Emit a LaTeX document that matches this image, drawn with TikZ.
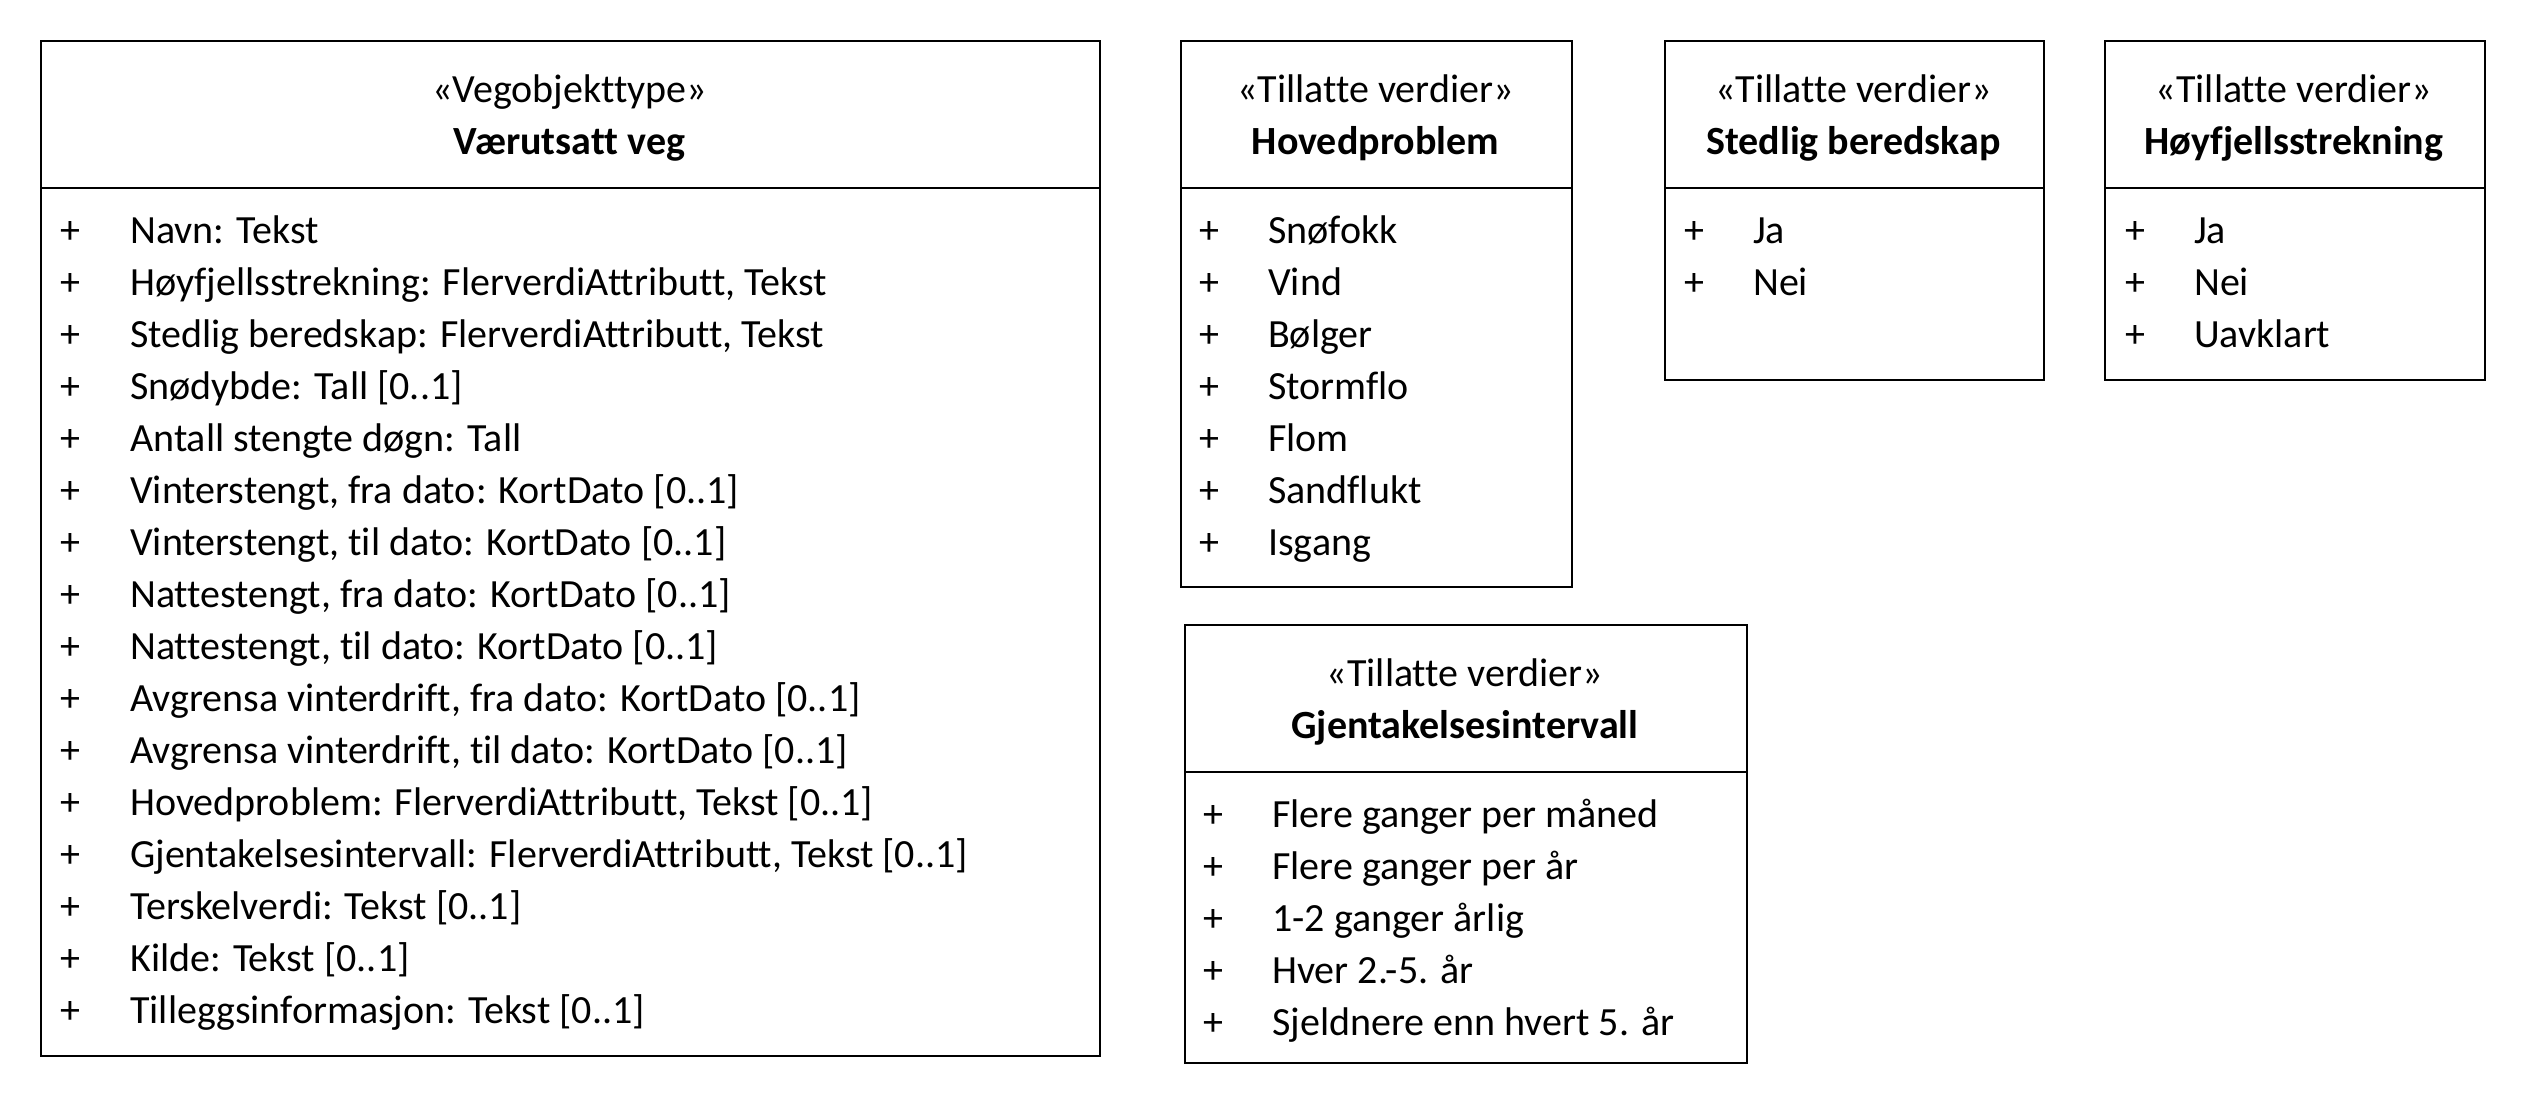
\documentclass[tikz,border=0pt]{standalone}
\usepackage{fontspec}
\setmainfont[Ligatures=NoCommon]{Carlito}
\begin{document}
\begin{tikzpicture}[x=1pt,y=-1pt,
  box/.style={draw=black, line width=1.6pt, rectangle, inner sep=0pt, anchor=north west},
  sepline/.style={draw=black, line width=1.6pt},
  row/.style={anchor=base west, inner sep=0pt, font=\fontsize{40}{44}\selectfont},
  plussign/.style={anchor=base, inner sep=0pt, font=\fontsize{40}{44}\selectfont},
  ster/.style={anchor=base, inner sep=0pt, font=\fontsize{40}{44}\selectfont},
  cname/.style={anchor=base, inner sep=0pt, font=\fontsize{40}{44}\selectfont\bfseries}]
\useasboundingbox (0,0) rectangle (2524,1108);

% Main class
\node[box, minimum width=1059pt, minimum height=1015pt] (main) at (40,40) {};
\node[ster] (mainS) at (569.5,102) {«Vegobjekttype»};
\node[cname] (mainN) at (569.5,154) {Værutsatt veg};
\draw[sepline] (main.west |- 0,188) -- (main.east |- 0,188);
\foreach \t [count=\i from 0] in {
  {Navn: Tekst},
  {Høyfjellsstrekning: FlerverdiAttributt, Tekst},
  {Stedlig beredskap: FlerverdiAttributt, Tekst},
  {Snødybde: Tall [0..1]},
  {Antall stengte døgn: Tall},
  {Vinterstengt, fra dato: KortDato [0..1]},
  {Vinterstengt, til dato: KortDato [0..1]},
  {Nattestengt, fra dato: KortDato [0..1]},
  {Nattestengt, til dato: KortDato [0..1]},
  {Avgrensa vinterdrift, fra dato: KortDato [0..1]},
  {Avgrensa vinterdrift, til dato: KortDato [0..1]},
  {Hovedproblem: FlerverdiAttributt, Tekst [0..1]},
  {Gjentakelsesintervall: FlerverdiAttributt, Tekst [0..1]},
  {Terskelverdi: Tekst [0..1]},
  {Kilde: Tekst [0..1]},
  {Tilleggsinformasjon: Tekst [0..1]}} {
  \node[plussign] (mainP\i) at (70,243+52*\i) {+};
  \node[row] (mainR\i) at (130,243+52*\i) {\t};
}

% Hovedproblem
\node[box, minimum width=391pt, minimum height=546pt] (hov) at (1180,40) {};
\node[ster] (hovS) at (1375.5,102) {«Tillatte verdier»};
\node[cname] (hovN) at (1375.5,154) {Hovedproblem};
\draw[sepline] (hov.west |- 0,188) -- (hov.east |- 0,188);
\foreach \t [count=\i from 0] in {Snøfokk, Vind, Bølger, Stormflo, Flom, Sandflukt, Isgang} {
  \node[plussign] (hovP\i) at (1209,243+52*\i) {+};
  \node[row] (hovR\i) at (1268,243+52*\i) {\t};
}

% Stedlig beredskap
\node[box, minimum width=379pt, minimum height=339pt] (sted) at (1664,40) {};
\node[ster] (stedS) at (1853.5,102) {«Tillatte verdier»};
\node[cname] (stedN) at (1853.5,154) {Stedlig beredskap};
\draw[sepline] (sted.west |- 0,188) -- (sted.east |- 0,188);
\foreach \t [count=\i from 0] in {Ja, Nei} {
  \node[plussign] (stedP\i) at (1694,243+52*\i) {+};
  \node[row] (stedR\i) at (1753,243+52*\i) {\t};
}

% Høyfjellsstrekning
\node[box, minimum width=380pt, minimum height=339pt] (hoy) at (2104,40) {};
\node[ster] (hoyS) at (2294,102) {«Tillatte verdier»};
\node[cname] (hoyN) at (2294,154) {Høyfjellsstrekning};
\draw[sepline] (hoy.west |- 0,188) -- (hoy.east |- 0,188);
\foreach \t [count=\i from 0] in {Ja, Nei, Uavklart} {
  \node[plussign] (hoyP\i) at (2135,243+52*\i) {+};
  \node[row] (hoyR\i) at (2194,243+52*\i) {\t};
}

% Gjentakelsesintervall
\node[box, minimum width=562pt, minimum height=438pt] (gje) at (1184,624) {};
\node[ster] (gjeS) at (1465,686) {«Tillatte verdier»};
\node[cname] (gjeN) at (1465,738) {Gjentakelsesintervall};
\draw[sepline] (gje.west |- 0,772) -- (gje.east |- 0,772);
\foreach \t [count=\i from 0] in {Flere ganger per måned, Flere ganger per år, 1-2 ganger årlig, Hver 2.-5. år, Sjeldnere enn hvert 5. år} {
  \node[plussign] (gjeP\i) at (1213,827+52*\i) {+};
  \node[row] (gjeR\i) at (1272,827+52*\i) {\t};
}
\end{tikzpicture}
\end{document}
